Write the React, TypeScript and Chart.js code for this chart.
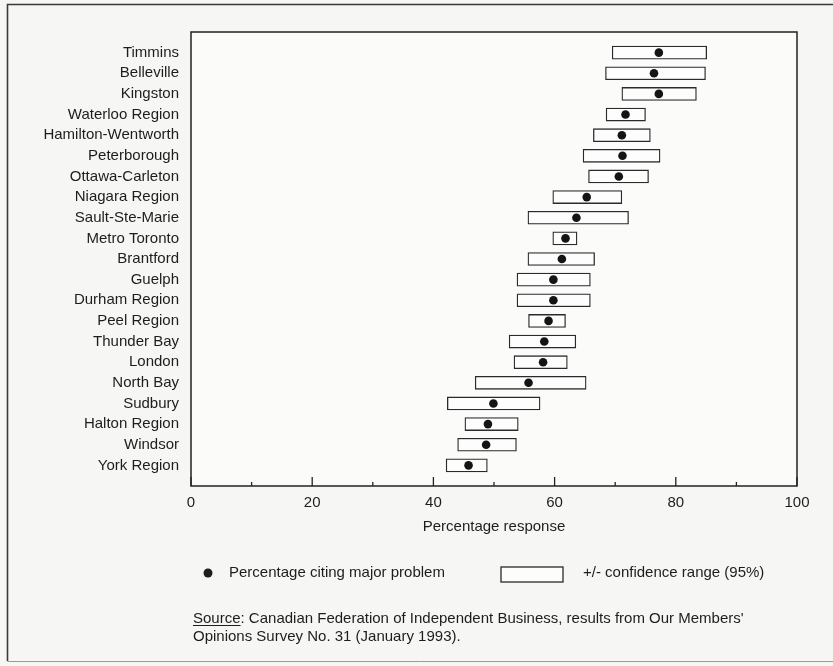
import React, { useEffect, useRef } from "react";
import { Chart, registerables } from "chart.js";

Chart.register(...registerables);

// Communities, top to bottom
const regions = [
  "Timmins",
  "Belleville",
  "Kingston",
  "Waterloo Region",
  "Hamilton-Wentworth",
  "Peterborough",
  "Ottawa-Carleton",
  "Niagara Region",
  "Sault-Ste-Marie",
  "Metro Toronto",
  "Brantford",
  "Guelph",
  "Durham Region",
  "Peel Region",
  "Thunder Bay",
  "London",
  "North Bay",
  "Sudbury",
  "Halton Region",
  "Windsor",
  "York Region",
];

// Percentage citing major problem
const citingPct = [
  77.2, 76.4, 77.2, 71.7, 71.1, 71.2, 70.6, 65.3, 63.6, 61.8, 61.2, 59.8, 59.8,
  59.0, 58.3, 58.1, 55.7, 49.9, 49.0, 48.7, 45.8,
];

// 95% confidence range, lower and upper bounds
const rangeLow = [
  69.5, 68.4, 71.1, 68.5, 66.4, 64.7, 65.6, 59.7, 55.6, 59.7, 55.6, 53.8, 53.8,
  55.7, 52.5, 53.3, 46.9, 42.3, 45.2, 44.0, 42.1,
];
const rangeHigh = [
  85.1, 84.9, 83.4, 75.0, 75.8, 77.4, 75.5, 71.1, 72.2, 63.7, 66.6, 65.9, 65.9,
  61.8, 63.5, 62.1, 65.2, 57.6, 54.0, 53.7, 48.9,
];

const xMin = 0;
const xMax = 100;
const xStep = 10;
const xLabelEvery = 20;

const axisTitle = "Percentage response";
const legendPoint = "Percentage citing major problem";
const legendRange = "+/- confidence range (95%)";
const sourceWord = "Source";
const sourceLine1 = ": Canadian Federation of Independent Business, results from Our Members'";
const sourceLine2 = "Opinions Survey No. 31 (January 1993).";

const FONT = '"Liberation Sans", Arial, Helvetica, sans-serif';
const INK = "#1d1d1d";

// Blank slots above and below keep a full row of space at each end of the axis
const axisLabels = ["", ...regions, ""];
const rangeData = [null, ...regions.map((_, i) => [rangeLow[i], rangeHigh[i]]), null];
const pointData = [null, ...citingPct, null];

const decorPlugin = {
  id: "decor",
  beforeDraw(chart: any) {
    const { ctx, width, height, chartArea } = chart;
    ctx.save();
    ctx.fillStyle = "#f6f6f4";
    ctx.fillRect(0, 0, width, height);
    ctx.fillStyle = "#fbfbfa";
    ctx.fillRect(
      chartArea.left,
      chartArea.top,
      chartArea.right - chartArea.left,
      chartArea.bottom - chartArea.top
    );
    ctx.restore();
  },
  afterDraw(chart: any) {
    const { ctx, chartArea } = chart;
    const xs = chart.scales.x;
    ctx.save();

    // outer frame
    ctx.strokeStyle = "#3a3a3a";
    ctx.lineWidth = 1.6;
    ctx.beginPath();
    ctx.moveTo(833, 4.5);
    ctx.lineTo(7.5, 4.5);
    ctx.lineTo(7.5, 661);
    ctx.stroke();
    ctx.strokeStyle = "#9a9a9a";
    ctx.lineWidth = 1;
    ctx.beginPath();
    ctx.moveTo(7.5, 661.5);
    ctx.lineTo(833, 661.5);
    ctx.stroke();

    // plot frame
    ctx.strokeStyle = "#222";
    ctx.lineWidth = 1.5;
    ctx.strokeRect(
      chartArea.left,
      chartArea.top,
      chartArea.right - chartArea.left,
      chartArea.bottom - chartArea.top
    );

    // inward tick marks on the x axis
    ctx.lineWidth = 1.3;
    xs.ticks.forEach((t: any) => {
      const px = xs.getPixelForValue(t.value);
      const len = t.value % xLabelEvery === 0 ? 9 : 4;
      ctx.beginPath();
      ctx.moveTo(px, chartArea.bottom);
      ctx.lineTo(px, chartArea.bottom - len);
      ctx.stroke();
    });

    // legend
    ctx.fillStyle = INK;
    ctx.font = `15px ${FONT}`;
    ctx.textBaseline = "middle";
    ctx.textAlign = "left";
    ctx.beginPath();
    ctx.arc(208, 573, 4.5, 0, Math.PI * 2);
    ctx.fill();
    ctx.fillText(legendPoint, 229, 573);
    ctx.fillStyle = "#fdfdfd";
    ctx.fillRect(501, 567, 62, 15);
    ctx.strokeStyle = "#2a2a2a";
    ctx.lineWidth = 1.3;
    ctx.strokeRect(501, 567, 62, 15);
    ctx.fillStyle = INK;
    ctx.fillText(legendRange, 583, 573);

    // source note
    ctx.textBaseline = "alphabetic";
    const base1 = 623;
    const base2 = 641;
    ctx.fillText(sourceWord, 193, base1);
    const w = ctx.measureText(sourceWord).width;
    ctx.fillText(sourceLine1, 193 + w, base1);
    ctx.fillText(sourceLine2, 193, base2);
    ctx.lineWidth = 1;
    ctx.strokeStyle = INK;
    ctx.beginPath();
    ctx.moveTo(193, base1 + 2.5);
    ctx.lineTo(193 + w, base1 + 2.5);
    ctx.stroke();

    ctx.restore();
  },
};

export default function App() {
  const ref = useRef<HTMLCanvasElement | null>(null);

  useEffect(() => {
    if (!ref.current) return;
    const chart = new Chart(ref.current, {
      type: "bar",
      data: {
        labels: axisLabels,
        datasets: [
          {
            type: "line",
            label: legendPoint,
            data: pointData as any,
            indexAxis: "y",
            showLine: false,
            pointRadius: 4.3,
            pointHoverRadius: 4.3,
            pointBackgroundColor: "#141414",
            pointBorderColor: "#141414",
            pointBorderWidth: 0,
            order: 0,
          } as any,
          {
            type: "bar",
            label: legendRange,
            data: rangeData as any,
            backgroundColor: "#fdfdfd",
            borderColor: "#2a2a2a",
            borderWidth: 1.3,
            borderSkipped: false,
            barThickness: 13,
            order: 1,
          } as any,
        ],
      },
      options: {
        indexAxis: "y",
        animation: false,
        responsive: false,
        events: [],
        layout: { padding: { left: 0, right: 36, top: 32, bottom: 0 } },
        plugins: {
          legend: { display: false },
          tooltip: { enabled: false },
        },
        scales: {
          y: {
            type: "category",
            offset: false,
            grid: { display: false, drawTicks: false },
            border: { display: false },
            ticks: {
              autoSkip: false,
              padding: 12,
              color: INK,
              font: { family: FONT, size: 15 },
            },
            afterFit: (s: any) => {
              s.width = 191;
            },
          },
          x: {
            type: "linear",
            min: xMin,
            max: xMax,
            grid: { display: false, drawTicks: false },
            border: { display: false },
            ticks: {
              stepSize: xStep,
              autoSkip: false,
              maxRotation: 0,
              padding: 8,
              color: INK,
              font: { family: FONT, size: 15 },
              callback: (v: any) => (Number(v) % xLabelEvery === 0 ? String(v) : ""),
            },
            title: {
              display: true,
              text: axisTitle,
              color: INK,
              font: { family: FONT, size: 15 },
              padding: { top: 0, bottom: 130 },
            },
            afterFit: (s: any) => {
              s.height = 180;
            },
          },
        },
      } as any,
      plugins: [decorPlugin],
    });
    return () => chart.destroy();
  }, []);

  return (
    <div style={{ position: "absolute", left: 0, top: 0, width: 833, height: 666 }}>
      <canvas ref={ref} width={833} height={666} style={{ display: "block" }} />
    </div>
  );
}
